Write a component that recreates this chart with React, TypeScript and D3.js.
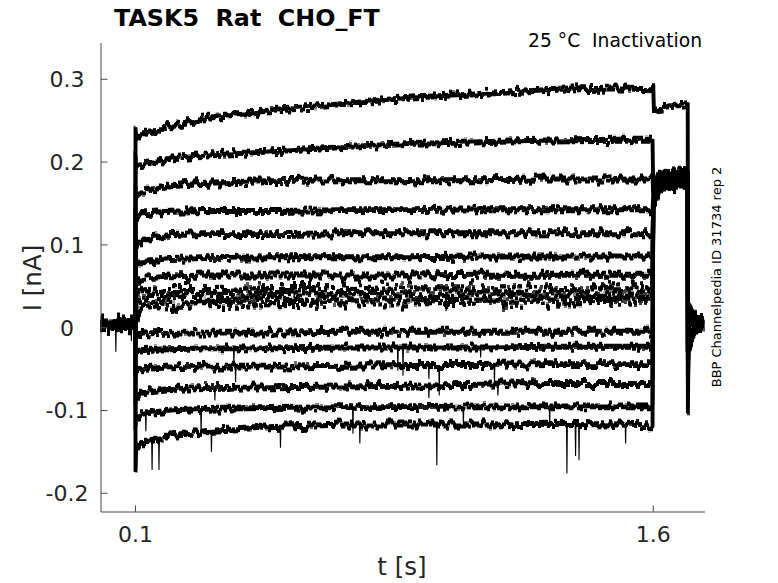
import React from "react";
import * as d3 from "d3";

// ---------- data ----------
const X_TICKS = [0.1, 1.6];
const X_TICK_LABELS = ["0.1", "1.6"];
const Y_TICKS = [-0.2, -0.1, 0, 0.1, 0.2, 0.3];
const Y_TICK_LABELS = ["-0.2", "-0.1", "0", "0.1", "0.2", "0.3"];

// holding level before the conditioning step (t = 0 .. 0.1 s), one per sweep
const PRE_LEVEL = [0.004, 0.003, 0.005, 0.002, 0.004, 0.003, 0.001, 0.005, 0.002, 0.004, 0.003, 0.002, 0.004, 0.001, 0.003];

// conditioning pulse, t = 0.1 .. 1.6 s (first value = capacitive transient)
const T_PULSE = [0.1, 0.102, 0.12, 0.2, 0.3, 0.5, 0.7, 0.9, 1.1, 1.3, 1.5, 1.598];
const PULSE_I = [
  [0.24, 0.229, 0.233, 0.243, 0.253, 0.263, 0.27, 0.278, 0.282, 0.287, 0.289, 0.288],
  [0.21, 0.194, 0.197, 0.204, 0.209, 0.213, 0.218, 0.222, 0.224, 0.226, 0.227, 0.227],
  [0.17, 0.158, 0.164, 0.172, 0.175, 0.177, 0.178, 0.178, 0.178, 0.179, 0.179, 0.179],
  [0.14, 0.133, 0.138, 0.14, 0.141, 0.141, 0.142, 0.142, 0.143, 0.143, 0.143, 0.143],
  [0.11, 0.098, 0.106, 0.112, 0.113, 0.113, 0.114, 0.114, 0.114, 0.114, 0.114, 0.114],
  [0.08, 0.072, 0.079, 0.083, 0.084, 0.085, 0.085, 0.085, 0.086, 0.086, 0.086, 0.086],
  [0.06, 0.052, 0.059, 0.062, 0.063, 0.063, 0.063, 0.063, 0.064, 0.064, 0.064, 0.064],
  [0.04, 0.03, 0.04, 0.043, 0.043, 0.044, 0.044, 0.045, 0.045, 0.045, 0.045, 0.045],
  [0.02, 0.018, 0.026, 0.03, 0.031, 0.032, 0.033, 0.033, 0.034, 0.034, 0.035, 0.035],
  [-0.012, -0.009, -0.007, -0.006, -0.006, -0.006, -0.005, -0.005, -0.005, -0.005, -0.005, -0.005],
  [-0.035, -0.03, -0.027, -0.026, -0.025, -0.025, -0.024, -0.024, -0.024, -0.023, -0.023, -0.023],
  [-0.06, -0.056, -0.05, -0.048, -0.047, -0.047, -0.046, -0.045, -0.045, -0.044, -0.044, -0.044],
  [-0.09, -0.086, -0.078, -0.074, -0.073, -0.072, -0.071, -0.07, -0.069, -0.068, -0.068, -0.068],
  [-0.12, -0.108, -0.104, -0.1, -0.098, -0.097, -0.096, -0.096, -0.095, -0.095, -0.095, -0.095],
  [-0.172, -0.145, -0.14, -0.13, -0.125, -0.12, -0.117, -0.117, -0.117, -0.116, -0.117, -0.118],
];

// test pulse, t = 1.6 .. 1.7 s
const T_TAIL = [1.6, 1.602, 1.615, 1.64, 1.7];
const TAIL_I = [
  [0.293, 0.26, 0.263, 0.267, 0.27],
  [0.165, 0.168, 0.184, 0.189, 0.192],
  [0.16, 0.164, 0.18, 0.186, 0.188],
  [0.156, 0.161, 0.177, 0.182, 0.185],
  [0.154, 0.159, 0.175, 0.18, 0.183],
  [0.152, 0.157, 0.173, 0.178, 0.181],
  [0.15, 0.155, 0.171, 0.177, 0.18],
  [0.15, 0.154, 0.17, 0.176, 0.179],
  [0.149, 0.153, 0.169, 0.175, 0.178],
  [0.149, 0.152, 0.168, 0.174, 0.177],
  [0.148, 0.152, 0.168, 0.174, 0.177],
  [0.148, 0.151, 0.167, 0.173, 0.176],
  [0.147, 0.151, 0.166, 0.172, 0.175],
  [0.147, 0.15, 0.165, 0.171, 0.174],
  [0.146, 0.15, 0.164, 0.17, 0.173],
];

// back to holding, t = 1.7 .. 1.745 s
const T_POST = [1.7, 1.702, 1.71, 1.725, 1.745];
const POST_I = [
  [0.02, 0.03, 0.022, 0.013, 0.009],
  [0.01, 0.026, 0.019, 0.011, 0.008],
  [0.0, 0.022, 0.016, 0.01, 0.007],
  [-0.01, 0.018, 0.014, 0.009, 0.006],
  [-0.01, 0.014, 0.012, 0.008, 0.005],
  [-0.02, 0.01, 0.01, 0.007, 0.005],
  [-0.02, 0.006, 0.008, 0.006, 0.004],
  [-0.03, 0.002, 0.005, 0.005, 0.004],
  [-0.03, -0.003, 0.002, 0.004, 0.003],
  [-0.04, -0.008, -0.001, 0.003, 0.003],
  [-0.05, -0.012, -0.004, 0.002, 0.002],
  [-0.06, -0.017, -0.007, 0.0, 0.002],
  [-0.07, -0.021, -0.01, -0.001, 0.001],
  [-0.08, -0.025, -0.012, -0.002, 0.001],
  [-0.1, -0.029, -0.015, -0.004, 0.0],
];

// brief downward events: [sweep, t (s), I (nA)]
const SPIKES: [number, number, number][] = [
  [0, 0.043, -0.029],
  [0, 0.088, -0.016],
  [7, 0.106, 0.018],
  [7, 0.56, 0.026],
  [8, 1.0, 0.02],
  [10, 0.385, -0.045],
  [10, 0.86, -0.052],
  [10, 0.875, -0.058],
  [10, 1.1, -0.036],
  [11, 0.39, -0.066],
  [11, 0.95, -0.062],
  [11, 0.98, -0.082],
  [11, 1.14, -0.068],
  [12, 0.33, -0.088],
  [12, 0.95, -0.085],
  [12, 1.15, -0.082],
  [13, 0.13, -0.125],
  [13, 0.29, -0.13],
  [13, 0.73, -0.128],
  [13, 1.05, -0.118],
  [13, 1.3, -0.12],
  [14, 0.148, -0.172],
  [14, 0.168, -0.172],
  [14, 0.32, -0.15],
  [14, 0.52, -0.145],
  [14, 0.75, -0.14],
  [14, 0.973, -0.166],
  [14, 1.35, -0.176],
  [14, 1.375, -0.155],
  [14, 1.385, -0.16],
  [14, 1.52, -0.14],
];

const NOISY_SWEEPS = [7, 8];

// ---------- layout ----------
const W = 778;
const H = 583;
const x = d3.scaleLinear().domain([0, 1.75]).range([101, 705]);
const y = d3.scaleLinear().domain([-0.2226, 0.3438]).range([512, 43]);

function sweepPoints(i: number): [number, number][] {
  const pts: [number, number][] = [];
  pts.push([0, PRE_LEVEL[i]]);
  pts.push([0.0999, PRE_LEVEL[i]]);
  T_PULSE.forEach((t, k) => pts.push([t, PULSE_I[i][k]]));
  T_TAIL.forEach((t, k) => pts.push([t, TAIL_I[i][k]]));
  T_POST.forEach((t, k) => pts.push([t + (k === 0 ? 0.0005 : 0), POST_I[i][k]]));
  return pts;
}

function spikePoints(s: [number, number, number]): [number, number][] {
  const [i, t, v] = s;
  const pts = sweepPoints(i);
  const j = pts.findIndex((p) => p[0] > t);
  const a = pts[j - 1];
  const b = pts[j];
  const base = d3.scaleLinear().domain([a[0], b[0]]).range([a[1], b[1]])(t);
  const dt = 0.0012;
  return [
    [t - dt, base],
    [t, v],
    [t + dt, base],
  ];
}

const line = d3
  .line<[number, number]>()
  .x((d) => x(d[0]))
  .y((d) => y(d[1]));

const FONT = "DejaVu Sans";
const TXT = "#262626";
const AX = "#4d4d4d";

function NoiseFilter({ id, freq, scale, seed }: { id: string; freq: string; scale: number; seed: number }) {
  return (
    <filter id={id} filterUnits="userSpaceOnUse" x={0} y={0} width={W} height={H} colorInterpolationFilters="sRGB">
      <feTurbulence type="fractalNoise" baseFrequency={freq} numOctaves={2} seed={seed} result="turb" />
      <feColorMatrix in="turb" type="matrix" values="0 0 0 0 0.5  0 1 0 0 0  0 0 0 0 0  0 0 0 0 1" result="disp" />
      <feDisplacementMap in="SourceGraphic" in2="disp" scale={scale} xChannelSelector="R" yChannelSelector="G" result="moved" />
      <feMorphology in="moved" operator="dilate" radius="1 1" />
    </filter>
  );
}

export default function App() {
  const sweeps = PULSE_I.map((_, i) => i);
  return (
    <svg width={W} height={H} style={{ position: "absolute", left: 0, top: 0, background: "#fff" }} fontFamily={FONT}>
      <defs>
        <NoiseFilter id="noiseA" freq="0.42 0.02" scale={15} seed={3} />
        <NoiseFilter id="noiseB" freq="0.38 0.03" scale={32} seed={7} />
      </defs>

      {/* traces */}
      <g filter="url(#noiseA)">
        {sweeps
          .filter((i) => !NOISY_SWEEPS.includes(i))
          .map((i) => (
            <path key={i} d={line(sweepPoints(i)) || ""} fill="none" stroke="#000" strokeWidth={1.9} strokeLinejoin="round" />
          ))}
      </g>
      <g filter="url(#noiseB)">
        {sweeps
          .filter((i) => NOISY_SWEEPS.includes(i))
          .map((i) => (
            <path key={i} d={line(sweepPoints(i)) || ""} fill="none" stroke="#000" strokeWidth={2.3} strokeLinejoin="round" />
          ))}
      </g>
      <g>
        {SPIKES.map((s, k) => (
          <path key={k} d={line(spikePoints(s)) || ""} fill="none" stroke="#000" strokeWidth={1.1} />
        ))}
      </g>

      {/* axes */}
      <line x1={x(0)} x2={x(0)} y1={y.range()[0]} y2={y.range()[1]} stroke={AX} strokeWidth={1} />
      <line x1={x(0)} x2={x(1.75)} y1={y.range()[0]} y2={y.range()[0]} stroke={AX} strokeWidth={1} />
      {Y_TICKS.map((v, k) => (
        <g key={"y" + k}>
          <line x1={x(0)} x2={x(0) + 6.5} y1={y(v)} y2={y(v)} stroke={AX} strokeWidth={1} />
          <text x={67} y={y(v)} dy="0.36em" textAnchor="middle" fontSize={22} fill={TXT}>
            {Y_TICK_LABELS[k]}
          </text>
        </g>
      ))}
      {X_TICKS.map((v, k) => (
        <g key={"x" + k}>
          <line x1={x(v)} x2={x(v)} y1={y.range()[0]} y2={y.range()[0] - 6.5} stroke={AX} strokeWidth={1} />
          <text x={x(v)} y={542.3} textAnchor="middle" fontSize={22} fill={TXT}>
            {X_TICK_LABELS[k]}
          </text>
        </g>
      ))}

      {/* labels */}
      <text x={402} y={575} textAnchor="middle" fontSize={24.5} fill={TXT}>
        t [s]
      </text>
      <text transform="translate(41,278) rotate(-90)" textAnchor="middle" fontSize={24.5} fill={TXT}>
        I [nA]
      </text>
      <text x={114} y={26} fontSize={23.8} fontWeight="bold" fill="#000" style={{ whiteSpace: "pre" }}>
        {"TASK5  Rat  CHO_FT"}
      </text>
      <text x={702} y={47.3} textAnchor="end" fontSize={18.7} fill="#000" style={{ whiteSpace: "pre" }}>
        {"25 °C  Inactivation"}
      </text>
      <text transform="translate(721,277) rotate(-90)" textAnchor="middle" fontSize={13} fill="#000">
        BBP Channelpedia ID 31734 rep 2
      </text>
    </svg>
  );
}
